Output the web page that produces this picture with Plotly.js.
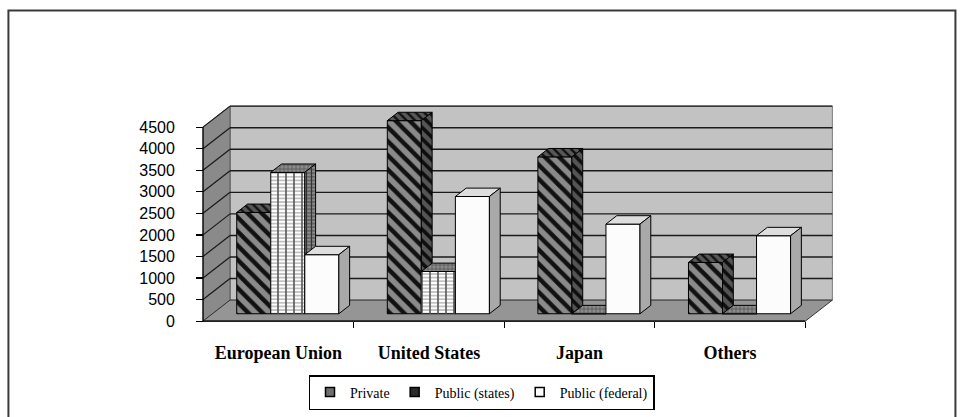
<!DOCTYPE html>
<html>
<head>
<meta charset="utf-8">
<script src="https://cdn.plot.ly/plotly-3.0.1.min.js"></script>
<style>
  html, body { margin: 0; padding: 0; background: #ffffff; }
  #chart { width: 963px; height: 417px; }
</style>
</head>
<body>
<div id="chart"></div>
<script>
// ---- data ----
const categories = ['European Union', 'United States', 'Japan', 'Others'];
const seriesNames = ['Private', 'Public (states)', 'Public (federal)'];
const privateVals = [2350, 4480, 3640, 1190];
const statesVals = [3280, 980, 0, 0];
const federalVals = [1370, 2720, 2080, 1810];
const yTickVals = [0, 500, 1000, 1500, 2000, 2500, 3000, 3500, 4000, 4500];
const yTop = 4500;

// ---- pseudo-3D geometry (pixel anchors of the front plane) ----
const W = 963, H = 417;
const PX_CAT = 150.5;          // pixels per category
const PX_K = 43.1;             // pixels per 1000 units
const ORIGIN = { x: 203, y: 321 };   // pixel of (left edge, 0) on the front plane
const DX = 27 / PX_CAT;        // depth offset of the back wall, category units
const DY = 21 / PX_K * 1000;   // depth offset of the back wall, value units
const xRange = [-0.56, 3.75];
const yRange = [-160, 5060];
const nCat = categories.length;
const xL = -0.5, xR = nCat - 0.5;

const plotLeft = ORIGIN.x + (xRange[0] - xL) * PX_CAT;
const plotRight = ORIGIN.x + (xRange[1] - xL) * PX_CAT;
const plotTop = ORIGIN.y - yRange[1] / 1000 * PX_K;
const plotBottom = ORIGIN.y - yRange[0] / 1000 * PX_K;
const plotW = plotRight - plotLeft, plotH = plotBottom - plotTop;
const paperX = px => (px - plotLeft) / plotW;
const paperY = py => (plotBottom - py) / plotH;

// bar layout inside the floor
const barW = 0.226;
const f0 = 0.35, f1 = 0.75;    // front / back depth of the bars (fraction of floor depth)

// each face may carry several fill layers; the first one draws the outline
const styles = [
  { // Private: diagonal hatching
    front: [{ fill: '#8a8a8a', pattern: { shape: '\\', fgcolor: '#111111', bgcolor: '#8a8a8a', size: 10, solidity: 0.45 } }],
    top:   [{ fill: '#4a4a4a', pattern: { shape: '\\', fgcolor: '#111111', bgcolor: '#585858', size: 6, solidity: 0.4 } }],
    side:  [{ fill: '#555555', pattern: { shape: '\\', fgcolor: '#0e0e0e', bgcolor: '#555555', size: 8, solidity: 0.45 } }],
    legend: '#6e6e6e'
  },
  { // Public (states): fine brick grid
    front: [
      { fill: '#ffffff', pattern: { shape: '-', fgcolor: '#9a9a9a', bgcolor: '#ffffff', size: 3.6, solidity: 0.3 } },
      { fill: 'rgba(0,0,0,0)', noLine: true, pattern: { shape: '|', fgcolor: '#555555', bgcolor: 'rgba(0,0,0,0)', size: 8, solidity: 0.2 } }
    ],
    top:   [{ fill: '#7a7a7a', pattern: { shape: '+', fgcolor: '#444444', bgcolor: '#8a8a8a', size: 4, solidity: 0.25 } }],
    side:  [
      { fill: '#8a8a8a', pattern: { shape: '-', fgcolor: '#4a4a4a', bgcolor: '#8c8c8c', size: 3.6, solidity: 0.3 } },
      { fill: 'rgba(0,0,0,0)', noLine: true, pattern: { shape: '|', fgcolor: '#333333', bgcolor: 'rgba(0,0,0,0)', size: 5, solidity: 0.25 } }
    ],
    legend: '#2a2a2a'
  },
  { // Public (federal): plain
    front: [{ fill: '#fcfcfc' }],
    top:   [{ fill: '#dedede' }],
    side:  [{ fill: '#a9a9a9' }],
    legend: '#ffffff'
  }
];

const seriesVals = [privateVals, statesVals, federalVals];

function polyTraces(pts, layers) {
  const xs = pts.map(p => p[0]).concat([pts[0][0]]);
  const ys = pts.map(p => p[1]).concat([pts[0][1]]);
  return layers.map(st => {
    const t = {
      type: 'scatter', mode: 'lines', x: xs, y: ys,
      fill: 'toself', fillcolor: st.fill,
      line: st.noLine ? { color: 'rgba(0,0,0,0)', width: 0 } : { color: '#000000', width: 1 },
      hoverinfo: 'skip', showlegend: false
    };
    if (st.pattern) t.fillpattern = Object.assign({ fillmode: 'replace' }, st.pattern);
    return t;
  });
}

// faces of one column, painted left to right so nearer faces overlap farther ones
const traces = [];
for (let c = 0; c < nCat; c++) {
  const groupLeft = c - 1.5 * barW;
  for (let s = 0; s < seriesVals.length; s++) {
    const h = seriesVals[s][c];
    const a = groupLeft + s * barW, b = a + barW;
    const ox0 = f0 * DX, oy0 = f0 * DY, ox1 = f1 * DX, oy1 = f1 * DY;
    const st = styles[s];
    traces.push(...polyTraces([[a + ox0, oy0], [b + ox0, oy0], [b + ox0, h + oy0], [a + ox0, h + oy0]], st.front));
    traces.push(...polyTraces([[a + ox0, h + oy0], [b + ox0, h + oy0], [b + ox1, h + oy1], [a + ox1, h + oy1]], st.top));
    traces.push(...polyTraces([[b + ox0, oy0], [b + ox1, oy1], [b + ox1, h + oy1], [b + ox0, h + oy0]], st.side));
  }
}

// legend entries
seriesNames.forEach((name, s) => {
  traces.push({
    type: 'scatter', mode: 'markers', x: [null], y: [null], name: name,
    marker: { symbol: 'square', size: 9, color: styles[s].legend, line: { color: '#000000', width: 1.5 } },
    hoverinfo: 'skip'
  });
});

// ---- walls, floor and gridlines ----
function path(pts) {
  return 'M' + pts.map(p => p[0] + ',' + p[1]).join('L') + 'Z';
}
const shapes = [];
shapes.push({ type: 'path', xref: 'x', yref: 'y', layer: 'below',
  path: path([[xL + DX, DY], [xR + DX, DY], [xR + DX, yTop + DY], [xL + DX, yTop + DY]]),
  fillcolor: '#c2c2c2', line: { color: '#7a7a7a', width: 1 } });
shapes.push({ type: 'path', xref: 'x', yref: 'y', layer: 'below',
  path: path([[xL, 0], [xL + DX, DY], [xL + DX, yTop + DY], [xL, yTop]]),
  fillcolor: '#8a8a8a', line: { color: '#555555', width: 1 } });
shapes.push({ type: 'path', xref: 'x', yref: 'y', layer: 'below',
  path: path([[xL, 0], [xR, 0], [xR + DX, DY], [xL + DX, DY]]),
  fillcolor: '#959595', line: { color: '#333333', width: 1 } });
yTickVals.forEach(v => {
  if (v === 0) return;
  shapes.push({ type: 'line', xref: 'x', yref: 'y', layer: 'below',
    x0: xL + DX, y0: v + DY, x1: xR + DX, y1: v + DY, line: { color: '#1a1a1a', width: 1.4 } });
  shapes.push({ type: 'line', xref: 'x', yref: 'y', layer: 'below',
    x0: xL, y0: v, x1: xL + DX, y1: v + DY, line: { color: '#1a1a1a', width: 1.2 } });
});
// value axis line and category axis line on the front plane
shapes.push({ type: 'line', xref: 'x', yref: 'y', layer: 'below',
  x0: xL, y0: 0, x1: xL, y1: yTop, line: { color: '#000000', width: 1.2 } });
shapes.push({ type: 'line', xref: 'x', yref: 'y', layer: 'below',
  x0: xL, y0: 0, x1: xR, y1: 0, line: { color: '#000000', width: 1.2 } });
// chart frame
shapes.push({ type: 'rect', xref: 'paper', yref: 'paper', layer: 'above',
  x0: paperX(8.5), y0: paperY(430), x1: paperX(955), y1: paperY(10.5),
  fillcolor: 'rgba(0,0,0,0)', line: { color: '#3a3a3a', width: 2 } });

const layout = {
  width: W, height: H,
  margin: { l: plotLeft, r: W - plotRight, t: plotTop, b: H - plotBottom, pad: 0, autoexpand: false },
  paper_bgcolor: '#ffffff', plot_bgcolor: 'rgba(0,0,0,0)',
  showlegend: true,
  xaxis: {
    range: xRange, anchor: 'free', position: (0 - yRange[0]) / (yRange[1] - yRange[0]),
    tickmode: 'array', tickvals: categories.map((_, i) => i), ticktext: categories,
    ticks: '', ticklabelstandoff: 19,
    tickfont: { family: 'Liberation Serif', size: 18, color: '#000000', weight: 'bold' },
    minor: { tickmode: 'array', tickvals: categories.map((_, i) => i + 0.5), ticks: 'outside', ticklen: 6, tickcolor: '#000000', tickwidth: 1.2, showgrid: false },
    showgrid: false, zeroline: false, showline: false, fixedrange: true
  },
  yaxis: {
    range: yRange, anchor: 'free', position: (xL - xRange[0]) / (xRange[1] - xRange[0]),
    tickmode: 'array', tickvals: yTickVals, ticktext: yTickVals.map(String),
    ticks: 'outside', ticklen: 7, tickcolor: '#000000', tickwidth: 1.2,
    ticklabelstandoff: 18,
    tickfont: { family: 'Liberation Sans', size: 16, color: '#000000' },
    showgrid: false, zeroline: false, showline: false, fixedrange: true
  },
  legend: {
    orientation: 'h', xref: 'container', yref: 'container',
    x: 0.5, xanchor: 'center', y: 1 - 375 / H, yanchor: 'top',
    bordercolor: '#000000', borderwidth: 1.5, bgcolor: '#ffffff',
    font: { family: 'Liberation Serif', size: 14, color: '#000000' },
    itemclick: false, itemdoubleclick: false
  },
  shapes: shapes,
  hovermode: false
};

Plotly.newPlot('chart', traces, layout, { displayModeBar: false, staticPlot: true });
</script>
</body>
</html>
